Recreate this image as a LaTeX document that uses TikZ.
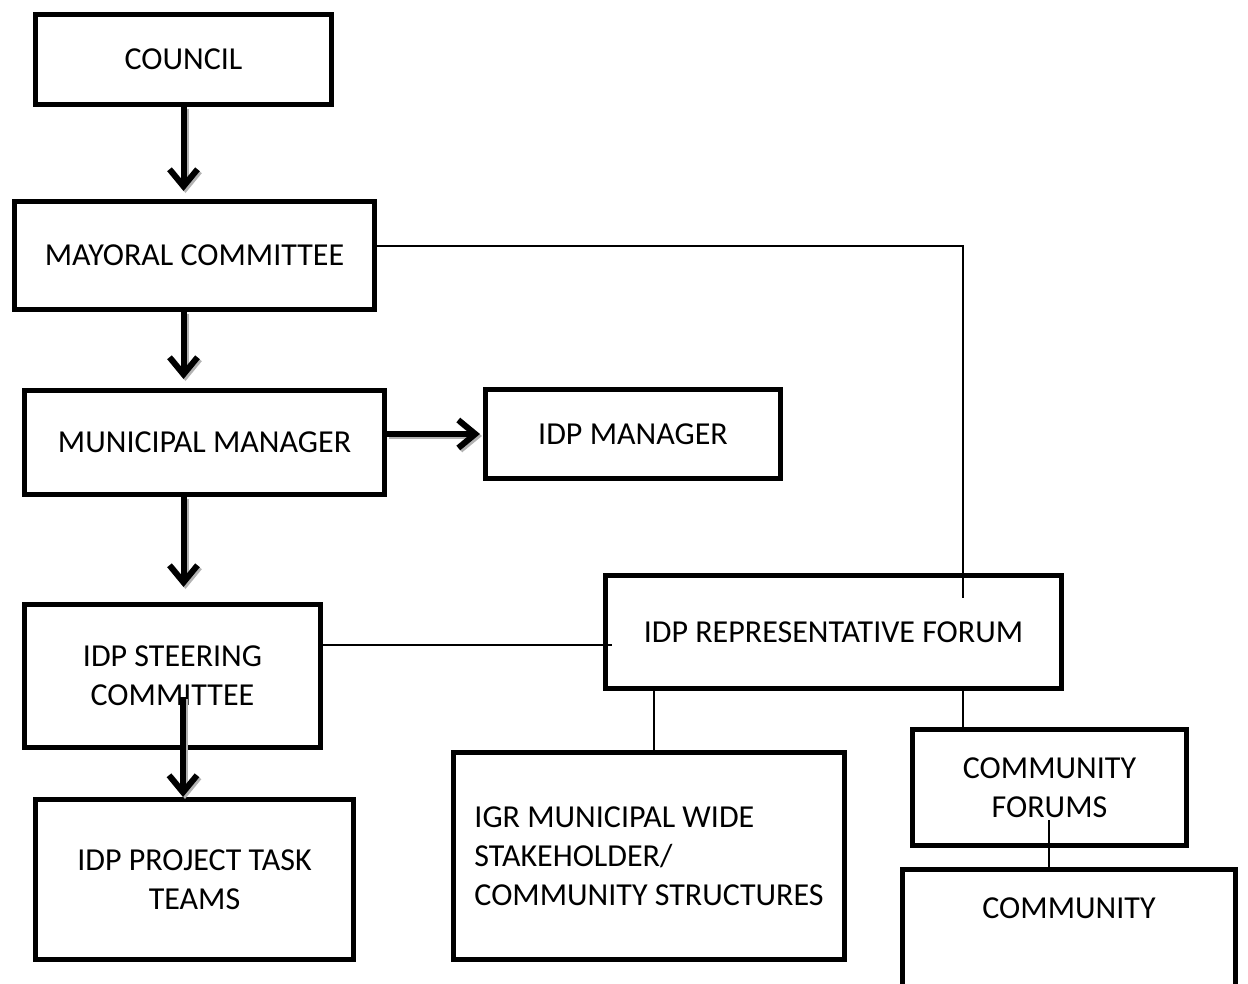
\documentclass[tikz,border=0pt]{standalone}
\usepackage{fontspec}
\setmainfont{Carlito}
\usetikzlibrary{arrows.meta}
\tikzstyle{box} = [rectangle, draw=black, line width=5pt, inner sep=0pt, align=center, text centered, font=\fontsize{32}{39}\selectfont]
\tikzstyle{arrow} = [line width=6pt, -{Straight Barb[length=17pt, width=28pt]}, preaction={draw=black!30, line width=6pt, -{Straight Barb[length=17pt, width=28pt]}, transform canvas={shift={(2pt,-2pt)}}}]
\tikzstyle{link} = [line width=1.4pt]

\begin{document}
\begin{tikzpicture}[x=1pt, y=-1pt]
		\useasboundingbox (0,0) rectangle (1248,983);
		\node (council) [box, minimum width=296pt, minimum height=90pt] at (183.5,59) {COUNCIL};
		\node (mayoral) [box, minimum width=360pt, minimum height=108pt] at (194.5,255.5) {MAYORAL COMMITTEE};
		\node (municipal) [box, minimum width=360pt, minimum height=104pt] at (204.5,442.5) {MUNICIPAL MANAGER};
		\node (idpmgr) [box, minimum width=295pt, minimum height=89pt] at (633,434) {IDP MANAGER};
		\node (steering) [box, minimum width=296pt, minimum height=143pt] at (172.5,676) {IDP STEERING\\COMMITTEE};
		\node (tasks) [box, minimum width=318pt, minimum height=160pt] at (194.5,879.5) {IDP PROJECT TASK\\TEAMS};
		\node (forum) [box, minimum width=456pt, minimum height=113pt] at (833.5,632) {IDP REPRESENTATIVE FORUM};
		\node (igr) [box, align=left, minimum width=391pt, minimum height=207pt] at (649,856) {IGR MUNICIPAL WIDE\\STAKEHOLDER/\\COMMUNITY STRUCTURES};
		\node (cforums) [box, minimum width=274pt, minimum height=116pt] at (1049.5,787.5) {COMMUNITY\\FORUMS};
		\node (community) [box, minimum width=333pt, minimum height=118pt] at (1069,928) {COMMUNITY\\\mbox{}};
		% free ends of the thin links
		\coordinate (bend) at (963,246);
		\coordinate (forumin) at (963,598);
		\coordinate (steerin) at (612,645);
		\coordinate (igrlink) at (654,750);
		\coordinate (cfin) at (1049,820);
		\coordinate (steerout) at (183,697);
		\draw [link] (mayoral.east |- bend) -- (bend) -- (forumin);
		\draw [link] (steering.east |- steerin) -- (steerin);
		\draw [link] (forum.south -| igrlink) -- (igrlink);
		\draw [link] (forum.south -| forumin) -- (cforums.north -| forumin);
		\draw [link] (cfin) -- (community.north -| cfin);
		\draw [arrow, shorten >=8pt] (council.south) -- (mayoral.north -| council.south);
		\draw [arrow, shorten >=9pt] (mayoral.south -| council.south) -- (municipal.north -| council.south);
		\draw [arrow, shorten >=3pt] (municipal.east |- idpmgr) -- (idpmgr.west);
		\draw [arrow, shorten >=15pt] (municipal.south -| council.south) -- (steering.north -| council.south);
		\draw [arrow] (steerout) -- (tasks.north -| steerout);
	\end{tikzpicture}
\end{document}
